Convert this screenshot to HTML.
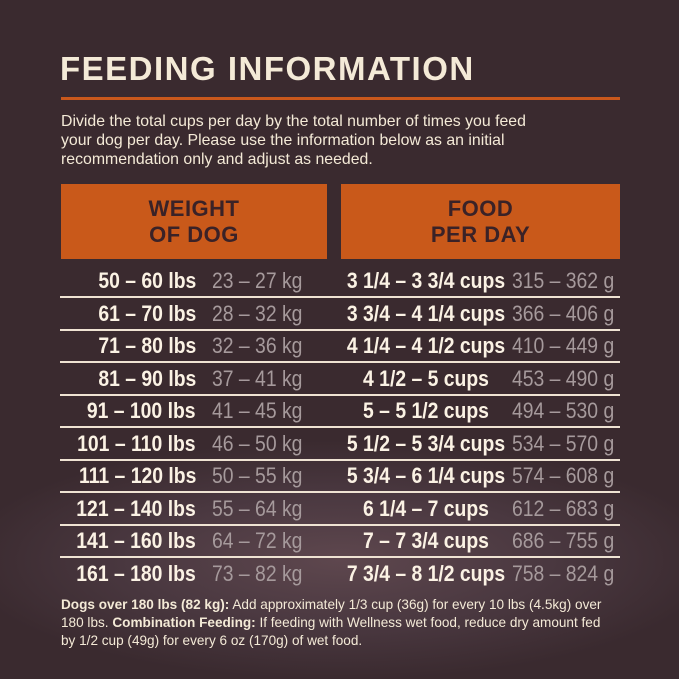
<!DOCTYPE html>
<html><head><meta charset="utf-8"><style>
html,body{margin:0;padding:0}
body{width:679px;height:679px;position:relative;overflow:hidden;background:#3a2a2f;font-family:"Liberation Sans",sans-serif}
.bg{position:absolute;left:0;top:380px;width:679px;height:299px;background:radial-gradient(ellipse 380px 120px at 340px 180px,#5e474e 0%,#4a3840 55%,rgba(58,42,47,0) 100%)}
.t{position:absolute;white-space:nowrap}
.title{left:60px;top:50px;font-size:33px;font-weight:bold;color:#f4ead7;letter-spacing:1.5px}
.rule{position:absolute;left:61px;top:97px;width:559px;height:3px;background:#c9581c}
.p{left:61px;top:112px;font-size:16px;line-height:19px;color:#f4ead7;transform:scaleX(.99);transform-origin:left}
.hd{position:absolute;top:184px;height:75px;background:#c9591a;color:#3a2227;font-weight:bold;font-size:22px;line-height:26px;text-align:center;display:flex;align-items:center;justify-content:center;letter-spacing:.5px}
.sep{position:absolute;left:60px;width:560px;height:2px;background:#efe3d3}
.c{position:absolute;font-size:22px;font-weight:bold;white-space:nowrap;line-height:24px;transform:scaleX(.88)}
.lbs{right:483px;color:#fbf2e4;transform-origin:right}
.kg{left:212px;color:#a69a9c;font-weight:normal;transform-origin:left}
.cups{left:226px;width:400px;text-align:center;color:#fbf2e4;transform-origin:center}
.g{right:65px;color:#a69a9c;font-weight:normal;transform-origin:right}
.foot{left:61px;top:595px;font-size:14px;line-height:18px;color:#f4ead7;transform:scaleX(.97);transform-origin:left}
</style></head><body>
<div class="bg"></div>
<div class="t title">FEEDING INFORMATION</div>
<div class="rule"></div>
<div class="t p">Divide the total cups per day by the total number of times you feed<br>your dog per day. Please use the information below as an initial<br>recommendation only and adjust as needed.</div>
<div class="hd" style="left:61px;width:266px">WEIGHT<br>OF DOG</div>
<div class="hd" style="left:341px;width:279px">FOOD<br>PER DAY</div>
<div id="rows"></div>
<script>
var d=[["50 – 60 lbs","23 – 27 kg","3 1/4 – 3 3/4 cups","315 – 362 g"],
["61 – 70 lbs","28 – 32 kg","3 3/4 – 4 1/4 cups","366 – 406 g"],
["71 – 80 lbs","32 – 36 kg","4 1/4 – 4 1/2 cups","410 – 449 g"],
["81 – 90 lbs","37 – 41 kg","4 1/2 – 5 cups","453 – 490 g"],
["91 – 100 lbs","41 – 45 kg","5 – 5 1/2 cups","494 – 530 g"],
["101 – 110 lbs","46 – 50 kg","5 1/2 – 5 3/4 cups","534 – 570 g"],
["111 – 120 lbs","50 – 55 kg","5 3/4 – 6 1/4 cups","574 – 608 g"],
["121 – 140 lbs","55 – 64 kg","6 1/4 – 7 cups","612 – 683 g"],
["141 – 160 lbs","64 – 72 kg","7 – 7 3/4 cups","686 – 755 g"],
["161 – 180 lbs","73 – 82 kg","7 3/4 – 8 1/2 cups","758 – 824 g"]];
var h="";
for(var i=0;i<d.length;i++){var y=269+i*32.5;
h+='<div class="c lbs" style="top:'+y+'px">'+d[i][0]+'</div><div class="c kg" style="top:'+y+'px">'+d[i][1]+'</div><div class="c cups" style="top:'+y+'px">'+d[i][2]+'</div><div class="c g" style="top:'+y+'px">'+d[i][3]+'</div>';
if(i<9)h+='<div class="sep" style="top:'+(296+i*32.5)+'px"></div>';}
document.getElementById("rows").innerHTML=h;
</script>
<div class="t foot"><b>Dogs over 180 lbs (82 kg):</b> Add approximately 1/3 cup (36g) for every 10 lbs (4.5kg) over<br>180 lbs. <b>Combination Feeding:</b> If feeding with Wellness wet food, reduce dry amount fed<br>by 1/2 cup (49g) for every 6 oz (170g) of wet food.</div>
</body></html>
